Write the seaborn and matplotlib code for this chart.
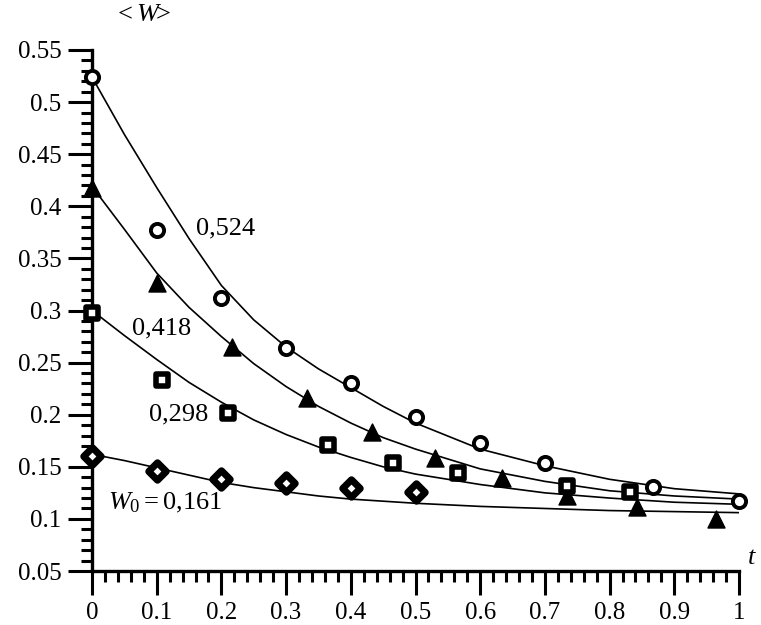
import numpy as np
import pandas as pd
import matplotlib
matplotlib.use("Agg")
import matplotlib.pyplot as plt
import seaborn as sns
from matplotlib.ticker import MultipleLocator, FuncFormatter

# ---- data ----
# fitted curves (t grid and <W> values)
curve_t = [0.0, 0.05, 0.1, 0.15, 0.2, 0.25, 0.3, 0.35, 0.4, 0.45, 0.5, 0.6, 0.7, 0.8, 0.9, 1.0]
curve_524 = [0.524, 0.469, 0.418, 0.369, 0.324, 0.291, 0.265, 0.244, 0.226, 0.208, 0.192, 0.167, 0.151, 0.138, 0.129, 0.124]
curve_418 = [0.419, 0.378, 0.336, 0.303, 0.275, 0.249, 0.227, 0.208, 0.192, 0.178, 0.167, 0.148, 0.136, 0.127, 0.122, 0.119]
curve_298 = [0.300, 0.276, 0.253, 0.231, 0.212, 0.195, 0.181, 0.169, 0.159, 0.150, 0.143, 0.133, 0.125, 0.120, 0.116, 0.114]
curve_161 = [0.162, 0.156, 0.149, 0.142, 0.135, 0.130, 0.126, 0.122, 0.119, 0.117, 0.115, 0.112, 0.110, 0.108, 0.107, 0.106]

# measured points
circ_t = [0.0, 0.1, 0.2, 0.3, 0.4, 0.5, 0.6, 0.7, 0.867, 1.0]
circ_w = [0.524, 0.377, 0.312, 0.264, 0.230, 0.198, 0.173, 0.154, 0.131, 0.117]
tri_t = [0.0, 0.1, 0.216, 0.332, 0.433, 0.530, 0.634, 0.734, 0.842, 0.964]
tri_w = [0.418, 0.326, 0.265, 0.216, 0.183, 0.158, 0.139, 0.122, 0.111, 0.100]
sq_t = [0.0, 0.108, 0.210, 0.365, 0.465, 0.566, 0.734, 0.832]
sq_w = [0.298, 0.233, 0.202, 0.171, 0.154, 0.144, 0.132, 0.126]
dia_t = [0.0, 0.1, 0.2, 0.3, 0.4, 0.5]
dia_w = [0.160, 0.146, 0.138, 0.134, 0.130, 0.126]

labels = ["0,524", "0,418", "0,298", r"$W_0 = 0{,}161$"]

# ---- style ----
sns.set_style("ticks")
plt.rcParams['font.family'] = ['Liberation Serif', 'DejaVu Serif']
plt.rcParams['mathtext.fontset'] = 'custom'
plt.rcParams['mathtext.rm'] = 'Liberation Serif'
plt.rcParams['mathtext.it'] = 'Liberation Serif:italic'
plt.rcParams['text.color'] = 'black'

fig = plt.figure(figsize=(7.61, 6.25), dpi=100)
ax = fig.add_axes([92/761, 54/625, 647/761, 521/625])

for cw in [curve_524, curve_418, curve_298, curve_161]:
    sns.lineplot(x=curve_t, y=cw, ax=ax, color='black', lw=1.2, sort=False)

sns.scatterplot(x=circ_t, y=circ_w, ax=ax, marker='o', s=90, facecolor='white',
                edgecolor='black', linewidth=2.8, clip_on=False, zorder=5)
sns.scatterplot(x=tri_t, y=tri_w, ax=ax, marker='^', s=150, color='black',
                edgecolor='black', linewidth=1, clip_on=False, zorder=5)
sns.scatterplot(x=sq_t, y=sq_w, ax=ax, marker='s', s=80, facecolor='white',
                edgecolor='black', linewidth=4.0, clip_on=False, zorder=5)
sns.scatterplot(x=dia_t, y=dia_w, ax=ax, marker='D', s=80, facecolor='white',
                edgecolor='black', linewidth=5.0, clip_on=False, zorder=5)

ax.set_xlim(0, 1)
ax.set_ylim(0.05, 0.55)
sns.despine(ax=ax)
for sp in ['left', 'bottom']:
    ax.spines[sp].set_linewidth(2.4)
    ax.spines[sp].set_color('black')

ax.xaxis.set_major_locator(MultipleLocator(0.1))
ax.xaxis.set_minor_locator(MultipleLocator(0.02))
ax.yaxis.set_major_locator(MultipleLocator(0.05))
ax.yaxis.set_minor_locator(MultipleLocator(0.01))

def fmt(v, pos):
    return f"{v:.2f}".rstrip('0').rstrip('.')
ax.xaxis.set_major_formatter(FuncFormatter(fmt))
ax.yaxis.set_major_formatter(FuncFormatter(fmt))

ax.tick_params(which='major', direction='out', length=17, width=2.2, labelsize=18,
               colors='black')
ax.tick_params(which='minor', direction='out', length=8, width=2.2, colors='black')
ax.tick_params(axis='x', which='major', pad=5)
ax.tick_params(axis='y', which='major', pad=5)

ax.set_xlabel("")
ax.set_ylabel("")

# annotations
ax.text(0.207, 0.379, labels[0], fontsize=19, ha='center', va='center')
ax.text(0.108, 0.283, labels[1], fontsize=19, ha='center', va='center')
ax.text(0.134, 0.200, labels[2], fontsize=19, ha='center', va='center')
ax.text(0.024, 0.115, labels[3], fontsize=19, ha='left', va='center')

ax.text(1.02, 0.062, r"$t$", fontsize=19, ha='center', va='center', clip_on=False)
fig.text(143/761, 1 - 15/625, r"$<W\!\!>$", fontsize=19, ha='center', va='center')

fig.savefig("out.png", dpi=100)
